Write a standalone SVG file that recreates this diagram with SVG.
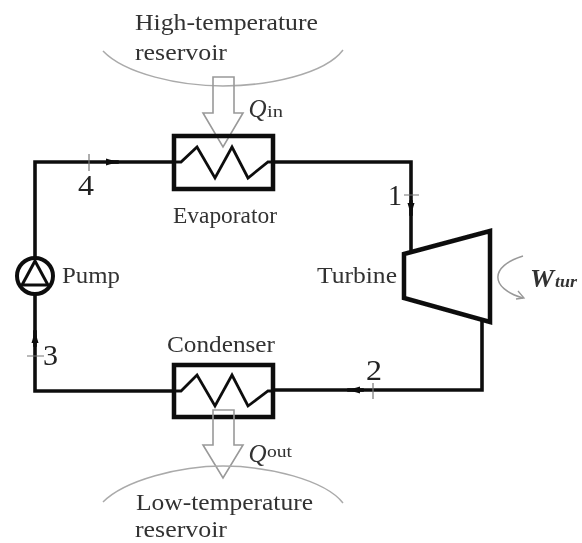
<svg xmlns="http://www.w3.org/2000/svg" width="582" height="543" viewBox="0 0 582 543">
<style>
text{font-family:"Liberation Serif","Times New Roman",serif;fill:#333}
.l{font-size:24px}
.n{font-size:30px;fill:#222}
.i{font-style:italic}
.w{fill:none;stroke:#111;stroke-width:3.6;stroke-linejoin:miter;stroke-linecap:square}
.b{fill:none;stroke:#111;stroke-width:4.5}
.z{fill:none;stroke:#111;stroke-width:2.8;stroke-linejoin:miter}
.t{stroke:#777;stroke-width:1.2;fill:none}
.a{fill:none;stroke:#999;stroke-width:1.6}
.r{fill:none;stroke:#aaa;stroke-width:1.5}
</style>
<defs>
<filter id="s" x="-5%" y="-5%" width="110%" height="110%"><feGaussianBlur stdDeviation="0.6"/></filter>
<marker id="h" viewBox="0 0 12 8" refX="11" refY="4" markerWidth="12" markerHeight="8" orient="auto" markerUnits="userSpaceOnUse"><path d="M0 0.5L12 4L0 7.5z" fill="#111"/></marker>
</defs>
<rect width="582" height="543" fill="#fff"/>
<g filter="url(#s)">
<g id="connectors">
<path class="w" d="M174 162H35V391H174"/>
<path class="w" d="M273 162H411V252"/>
<path class="w" d="M482 320V390H273"/>
<path class="w" d="M108 162H117" marker-end="url(#h)"/>
<path class="w" d="M411 202V214" marker-end="url(#h)"/>
<path class="w" d="M362 390H349" marker-end="url(#h)"/>
<path class="w" d="M35 345V332" marker-end="url(#h)"/>
<path class="t" d="M89 154V171M404 195H419M373 383V399M27 356H44"/>
</g>
<g id="high-reservoir">
<path class="r" d="M103 51C125 74 180 86 223 86C268 86 325 74 343 50"/>
<text class="l" x="135" y="30" textLength="183" lengthAdjust="spacingAndGlyphs">High-temperature</text>
<text class="l" x="135" y="60" textLength="92" lengthAdjust="spacingAndGlyphs">reservoir</text>
</g>
<g id="qin">
<path class="a" d="M213 77H234V113H243L223 147L203 113H213Z"/>
<text x="248.5" y="117" class="i" style="font-size:25px">Q</text>
<text x="267" y="117" style="font-size:16px" textLength="16" lengthAdjust="spacingAndGlyphs">in</text>
</g>
<g id="evaporator">
<rect class="b" x="174" y="136" width="99" height="53"/>
<path class="z" d="M174 162H181L197 147L215 178L232 147L248 178L268 162H273"/>
<text class="l" x="173" y="223" textLength="104" lengthAdjust="spacingAndGlyphs">Evaporator</text>
</g>
<g id="pump">
<circle cx="35" cy="276" r="18" fill="#fff" stroke="#111" stroke-width="4"/>
<path d="M35 261L48 285H22Z" fill="#fff" stroke="#111" stroke-width="3"/>
<text class="l" x="62" y="283" textLength="58" lengthAdjust="spacingAndGlyphs">Pump</text>
</g>
<g id="turbine">
<path d="M404 254L490 231V322L404 298Z" fill="#fff" stroke="#111" stroke-width="4.5"/>
<text class="l" x="317" y="283" textLength="80" lengthAdjust="spacingAndGlyphs">Turbine</text>
<path d="M523 256C490 266 489 288 523 298" fill="none" stroke="#999" stroke-width="1.5"/>
<path d="M518 291L524 298L516 299" fill="none" stroke="#999" stroke-width="1.3"/>
<text x="530" y="287" class="i" style="font-size:26px;font-weight:bold" textLength="24" lengthAdjust="spacingAndGlyphs">W</text>
<text x="555" y="287" class="i" style="font-size:16px;font-weight:bold" textLength="22" lengthAdjust="spacingAndGlyphs">tur</text>
</g>
<g id="condenser">
<rect class="b" x="174" y="365" width="99" height="52"/>
<path class="z" d="M174 391H181L197 375L215 406L232 375L248 406L268 391H273"/>
<text class="l" x="167" y="352" textLength="108" lengthAdjust="spacingAndGlyphs">Condenser</text>
</g>
<g id="qout">
<path class="a" d="M213 410H234V445H243L223 478L203 445H213Z"/>
<text x="248.5" y="462" class="i" style="font-size:25px">Q</text>
<text x="267" y="457" style="font-size:16px" textLength="25" lengthAdjust="spacingAndGlyphs">out</text>
</g>
<g id="low-reservoir">
<path class="r" d="M103 502C125 480 180 466 223 466C268 466 325 480 343 503"/>
<text class="l" x="136" y="510" textLength="177" lengthAdjust="spacingAndGlyphs">Low-temperature</text>
<text class="l" x="135" y="537" textLength="92" lengthAdjust="spacingAndGlyphs">reservoir</text>
</g>
<g id="numbers">
<text class="n" x="78" y="195" textLength="16" lengthAdjust="spacingAndGlyphs">4</text>
<text class="n" x="388" y="205" textLength="14" lengthAdjust="spacingAndGlyphs">1</text>
<text class="n" x="366" y="380" textLength="16" lengthAdjust="spacingAndGlyphs">2</text>
<text class="n" x="43" y="365" textLength="15" lengthAdjust="spacingAndGlyphs">3</text>
</g>
</g>
</svg>
